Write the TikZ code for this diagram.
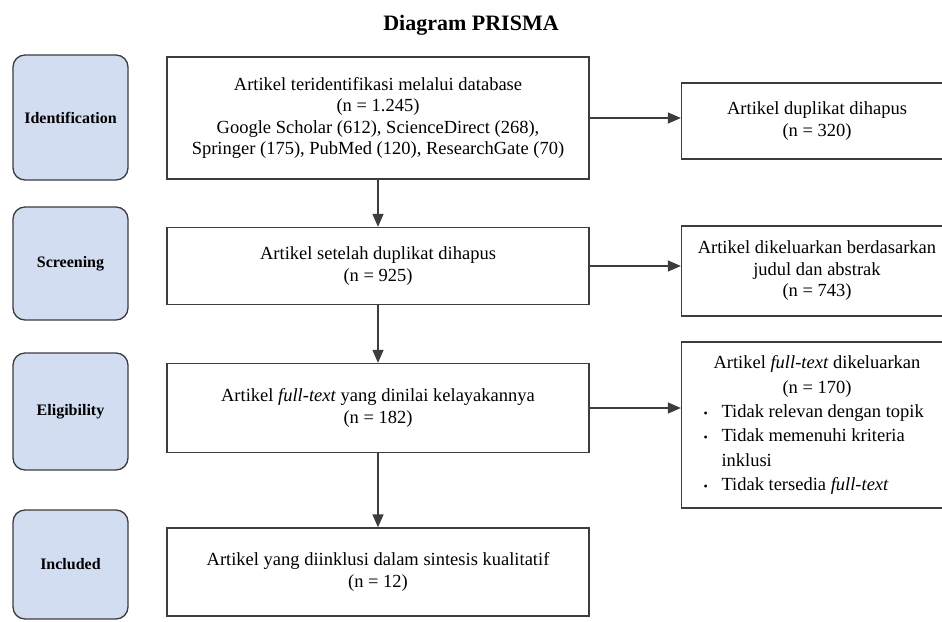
\documentclass[tikz,border=0pt]{standalone}
\usepackage{fontspec}
\setmainfont{Liberation Serif}
\usetikzlibrary{arrows.meta}
\definecolor{tahapbiru}{HTML}{D2DDF1}
\definecolor{garis}{HTML}{3C3C3C}
\newcommand{\butir}[1]{\makebox[271pt][l]{\hspace*{22pt}\makebox[18pt][l]{\fontsize{12pt}{12pt}\selectfont\textbullet}#1}}
\newcommand{\lanjut}[1]{\makebox[271pt][l]{\hspace*{40pt}#1}}

\begin{document}
\begin{tikzpicture}[x=1pt,y=-1pt,line width=1.3pt,
  tahap/.style={draw=garis,fill=tahapbiru,rounded corners=12pt,minimum width=115pt,font=\fontsize{16pt}{19pt}\selectfont\bfseries},
  kotak/.style={draw=garis,align=center,inner sep=0pt,font=\fontsize{18.5pt}{21.5pt}\selectfont},
  panah/.style={-{Triangle[length=13pt,width=11pt]},garis}]
  \useasboundingbox (0,0) rectangle (942,621);
  \clip (0,0) rectangle (942,621);

  %judul
  \node[font=\fontsize{22pt}{26pt}\selectfont\bfseries] (judul) at (471,25) {Diagram PRISMA};

  %tahap
  \coordinate (c1) at (70.5,117.5);
  \coordinate (c2) at (70.5,263.5);
  \coordinate (c3) at (70.5,411.5);
  \coordinate (c4) at (70.5,564.5);

  \node[tahap,minimum height=125pt] (t1) at (c1) {Identification};
  \node[tahap,minimum height=113pt] (t2) at (c2) {Screening};
  \node[tahap,minimum height=117pt] (t3) at (c3) {Eligibility};
  \node[tahap,minimum height=109pt] (t4) at (c4) {Included};

  %kotak utama
  \node[kotak,minimum width=422pt,minimum height=122pt] (k1) at (378,118)
    {Artikel teridentifikasi melalui database\\(n = 1.245)\\Google Scholar (612), ScienceDirect (268),\\Springer (175), PubMed (120), ResearchGate (70)};
  \node[kotak,minimum width=422pt,minimum height=77pt] (k2) at (378,266)
    {Artikel setelah duplikat dihapus\\(n = 925)};
  \node[kotak,minimum width=422pt,minimum height=89pt] (k3) at (378,408)
    {Artikel \textit{full-text} yang dinilai kelayakannya\\(n = 182)};
  \node[kotak,minimum width=422pt,minimum height=88pt] (k4) at (378,572)
    {Artikel yang diinklusi dalam sintesis kualitatif\\(n = 12)};

  %kotak kanan
  \node[kotak,minimum width=271pt,minimum height=76pt] (h1) at (817,121)
    {Artikel duplikat dihapus\\(n = 320)};
  \node[kotak,minimum width=271pt,minimum height=90pt] (h2) at (817,271)
    {Artikel dikeluarkan berdasarkan\\judul dan abstrak\\(n = 743)};
  \node[kotak,minimum width=271pt,minimum height=166pt,font=\fontsize{18.5pt}{24.3pt}\selectfont] (h3) at (817,425)
    {Artikel \textit{full-text} dikeluarkan\\(n = 170)\\\butir{Tidak relevan dengan topik}\\\butir{Tidak memenuhi kriteria}\\\lanjut{inklusi}\\\butir{Tidak tersedia \textit{full-text}}};

  %panah
  \draw[panah] (k1) -- (k2);
  \draw[panah] (k2) -- (k3);
  \draw[panah] (k3) -- (k4);
  \draw[panah] (k1.east) -- (k1.east -| h1.west);
  \draw[panah] (k2.east) -- (k2.east -| h2.west);
  \draw[panah] (k3.east) -- (k3.east -| h3.west);

\end{tikzpicture}
\end{document}
